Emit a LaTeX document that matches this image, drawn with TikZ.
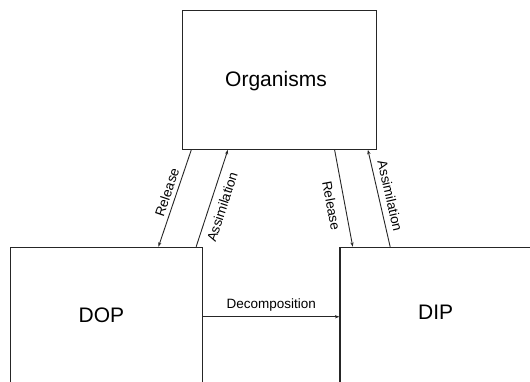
\documentclass[tikz,border=0pt]{standalone}
\usepackage{fontspec}
\setmainfont{Liberation Sans}
\usetikzlibrary{arrows.meta,calc}
\begin{document}
\begin{tikzpicture}[x=1pt,y=-1pt,
  pool/.style={draw=black!85,line width=1.1pt,inner sep=0pt},
  flow/.style={draw=black!85,line width=0.9pt,-{Stealth[length=4.5pt,width=3.2pt]}},
  big/.style={font=\fontsize{21}{24}\selectfont},
  small/.style={font=\fontsize{13.5}{16}\selectfont,inner sep=2pt}]
\clip (0,0) rectangle (530,382);
\fill[white] (0,0) rectangle (530,382);
% three pools
\node[pool,minimum width=194.7pt,minimum height=138.6pt] (org) at (279.5,80) {};
\node[pool,minimum width=191.6pt,minimum height=200pt] (dop) at (106.5,347.3) {};
\node[pool,minimum width=240pt,minimum height=200pt] (dip) at (460,347.3) {};
\node[big] (orgt) at (276,81) {Organisms};
\node[big] (dopt) at (101.5,315) {DOP};
\node[big] (dipt) at (435.6,312) {DIP};
% fluxes between organisms and the dissolved pools
\draw[flow] ($(org.south west)+(9.7,0)$) -- ($(dop.north west)+(148.3,0)$)
  node[small,pos=0.47,sloped,above=2pt] (rl) {Release};
\draw[flow] ($(dop.north west)+(186,0)$) -- ($(org.south west)+(46.3,0)$)
  node[small,pos=0.45,sloped,below=5pt] (al) {Assimilation};
\draw[flow] ($(org.south west)+(153,0)$) -- ($(dip.north west)+(13.3,0)$)
  node[small,pos=0.55,sloped,below=6pt] (rr) {Release};
\draw[flow] ($(dip.north west)+(50.7,0)$) -- ($(org.south west)+(186.3,0)$)
  node[small,pos=0.5,sloped,above=4pt] (ar) {Assimilation};
% decomposition
\draw[flow] ($(dop.north east)+(0,70)$) -- ($(dip.north west)+(0,70)$)
  node[small,midway,above=3pt] (dc) {Decomposition};
\end{tikzpicture}
\end{document}
